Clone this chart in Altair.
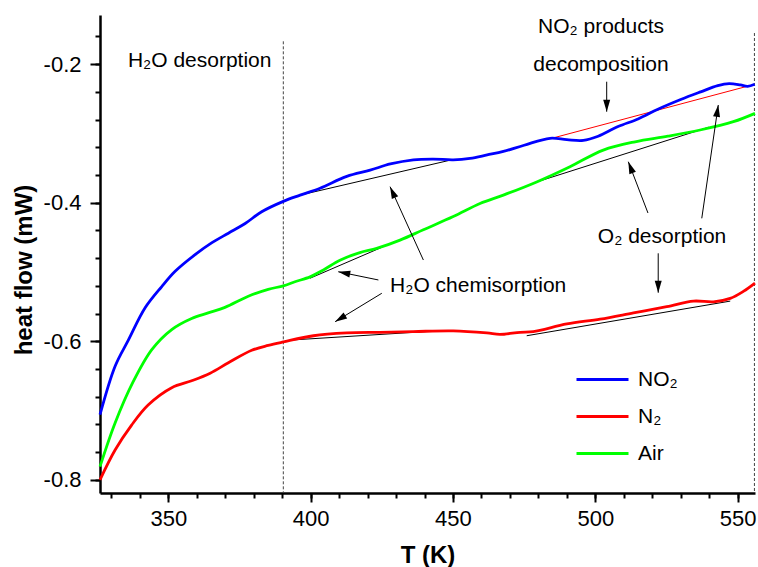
import math
import altair as alt
import pandas as pd

# ---------------- data ----------------
SERIES = ["NO₂", "N₂", "Air"]
COLORS = ["#0000ff", "#ff0000", "#00ff00"]

T_NO2 = [326.0, 331.3, 336.0, 341.8, 347.7, 352.4, 359.4, 365.2, 371.1, 377.0, 382.8, 390.4,
         396.3, 403.3, 412.7, 420.9, 428.0, 436.1, 443.0, 450.1, 456.0, 462.0, 467.7, 475.0,
         484.1, 490.0, 495.8, 501.0, 508.0, 515.0, 522.0, 530.0, 537.0, 543.0, 547.0, 551.0,
         553.5, 556.0]
Y_NO2 = [-0.706, -0.636, -0.598, -0.552, -0.521, -0.499, -0.475, -0.458, -0.444, -0.430, -0.413, -0.398,
         -0.389, -0.379, -0.362, -0.353, -0.344, -0.338, -0.337, -0.338, -0.336, -0.331, -0.326, -0.317,
         -0.307, -0.309, -0.310, -0.304, -0.290, -0.279, -0.265, -0.251, -0.240, -0.231, -0.228, -0.230,
         -0.232, -0.229]

T_N2 = [326.0, 331.3, 337.1, 342.9, 351.2, 358.2, 364.7, 371.1, 379.3, 385.1, 390.4, 401.0,
        412.7, 424.4, 436.1, 450.1, 461.9, 466.5, 473.6, 478.2, 490.0, 501.7, 513.4, 525.1,
        534.5, 541.5, 547.4, 552.0, 556.1]
Y_N2 = [-0.800, -0.757, -0.721, -0.692, -0.667, -0.657, -0.646, -0.631, -0.613, -0.606, -0.601, -0.592,
        -0.588, -0.587, -0.586, -0.585, -0.588, -0.590, -0.587, -0.586, -0.575, -0.568, -0.559, -0.550,
        -0.542, -0.543, -0.538, -0.528, -0.516]

T_AIR = [326.0, 331.3, 337.7, 344.2, 351.2, 358.2, 364.0, 369.9, 378.1, 385.1, 390.4, 394.5,
         399.8, 404.5, 410.3, 417.3, 423.2, 431.4, 439.6, 450.1, 459.5, 467.7, 479.4, 491.1,
         502.8, 514.0, 525.5, 536.8, 548.5, 556.1]
Y_AIR = [-0.781, -0.718, -0.658, -0.612, -0.583, -0.567, -0.559, -0.551, -0.535, -0.525, -0.520, -0.514,
         -0.507, -0.497, -0.483, -0.472, -0.466, -0.454, -0.439, -0.420, -0.401, -0.389, -0.370, -0.348,
         -0.324, -0.312, -0.304, -0.295, -0.283, -0.271]

# thin tangent / baseline segments: (T1, y1, T2, y2)
BLACK_SEGS = [
    (396.3, -0.389, 449.6, -0.338),
    (399.8, -0.509, 429.7, -0.456),
    (479.4, -0.370, 539.8, -0.291),
    (393.9, -0.598, 444.3, -0.585),
    (475.9, -0.592, 547.4, -0.542),
]
RED_SEGS = [
    (484.7, -0.307, 553.3, -0.232),
]

# arrows: (T start, y start, T tip, y tip)
ARROWS = [
    (504.0, -0.2253, 504.0, -0.2686),
    (518.5, -0.4148, 511.6, -0.3408),
    (537.4, -0.4225, 543.2, -0.2589),
    (522.1, -0.4730, 522.1, -0.5299),
    (423.8, -0.5115, 409.7, -0.4996),
    (425.0, -0.5307, 408.6, -0.5717),
    (439.6, -0.4827, 427.9, -0.3768),
]

# annotation texts
LEFT_TEXTS = ["H₂O desorption", "O₂ desorption", "H₂O chemisorption"]
LEFT_T = [335.8, 500.9, 427.9]
LEFT_Y = [-0.204, -0.458, -0.529]
CENTER_TEXTS = ["NO₂ products", "decomposition"]
CENTER_T = [502.0, 502.0]
CENTER_Y = [-0.155, -0.2098]

# dashed vertical markers
VLINE_T = [390.4, 555.9]
VLINE_TOP = [-0.167, -0.155]
VLINE_BOTTOM = [-0.819, -0.819]

X_DOMAIN = [326.0, 556.1]
Y_DOMAIN = [-0.819, -0.129]
X_MAJOR = [350, 400, 450, 500, 550]
X_MINOR = [330, 340, 350, 360, 370, 380, 390, 400, 410, 420, 430, 440, 450, 460, 470, 480,
           490, 500, 510, 520, 530, 540, 550]
Y_MAJOR = [-0.8, -0.6, -0.4, -0.2]
Y_MINOR = [-0.8, -0.76, -0.72, -0.68, -0.64, -0.6, -0.56, -0.52, -0.48, -0.44, -0.4, -0.36,
           -0.32, -0.28, -0.24, -0.2, -0.16]

W, H = 655, 478
FONT = "Liberation Sans"

# ---------------- tables ----------------
rows = []
for name, ts, ys in [(SERIES[0], T_NO2, Y_NO2), (SERIES[1], T_N2, Y_N2), (SERIES[2], T_AIR, Y_AIR)]:
    for t, y in zip(ts, ys):
        rows.append({"series": name, "T": t, "hf": y})
lines_df = pd.DataFrame(rows)


def seg_table(segs):
    r = []
    for i, (t1, y1, t2, y2) in enumerate(segs):
        r.append({"seg": i, "T": t1, "hf": y1})
        r.append({"seg": i, "T": t2, "hf": y2})
    return pd.DataFrame(r)


black_df = seg_table(BLACK_SEGS)
red_df = seg_table(RED_SEGS)

kx = W / (X_DOMAIN[1] - X_DOMAIN[0])
ky = H / (Y_DOMAIN[1] - Y_DOMAIN[0])
arr_rows = []
for t1, y1, t2, y2 in ARROWS:
    dx = (t2 - t1) * kx
    dy = -(y2 - y1) * ky
    ang = math.degrees(math.atan2(dx, -dy)) % 360
    arr_rows.append({"T1": t1, "y1": y1, "T2": t2, "y2": y2, "ang": ang})
arr_df = pd.DataFrame(arr_rows)

left_df = pd.DataFrame({"txt": LEFT_TEXTS, "T": LEFT_T, "hf": LEFT_Y})
center_df = pd.DataFrame({"txt": CENTER_TEXTS, "T": CENTER_T, "hf": CENTER_Y})
vline_df = pd.DataFrame({"T": VLINE_T, "top": VLINE_TOP, "bottom": VLINE_BOTTOM})

xs = alt.Scale(domain=X_DOMAIN, nice=False, zero=False)
ys_ = alt.Scale(domain=Y_DOMAIN, nice=False, zero=False)

x_main_axis = alt.Axis(orient="bottom", values=X_MAJOR, tickSize=9, tickWidth=2, tickColor="black",
                       domainColor="black", domainWidth=2.5, labelFont=FONT, labelFontSize=22,
                       labelColor="black", labelPadding=6, labelFlush=False, grid=False,
                       titleFont=FONT, titleFontSize=24, titleFontWeight="bold", titleColor="black",
                       titleY=69, titleBaseline="alphabetic")
y_main_axis = alt.Axis(orient="left", values=Y_MAJOR, labelExpr="'' + datum.value", tickSize=10,
                       tickWidth=2, tickColor="black", domainColor="black", domainWidth=2.5,
                       labelFont=FONT, labelFontSize=22, labelColor="black", labelPadding=9,
                       labelFlush=False, grid=False, titleFont=FONT, titleFontSize=24,
                       titleFontWeight="bold", titleColor="black", titleX=-75.5, titleY=254.5,
                       titleAngle=270, titleBaseline="middle", titleAlign="center")

lines = alt.Chart(lines_df).mark_line(strokeWidth=2.8, interpolate="catmull-rom").encode(
    x=alt.X("T:Q", scale=xs, axis=x_main_axis, title="T (K)"),
    y=alt.Y("hf:Q", scale=ys_, axis=y_main_axis, title="heat flow (mW)"),
    color=alt.Color("series:N", scale=alt.Scale(domain=SERIES, range=COLORS),
                    legend=alt.Legend(title=None, orient="none", legendX=475, legendY=346,
                                      symbolType="stroke", symbolSize=2704, symbolStrokeWidth=3,
                                      labelFont=FONT, labelFontSize=21, labelColor="black",
                                      labelOffset=8, clipHeight=37, rowPadding=0, padding=0)),
)

black_segs = alt.Chart(black_df).mark_line(color="black", strokeWidth=1).encode(
    x=alt.X("T:Q", scale=xs, axis=None), y=alt.Y("hf:Q", scale=ys_, axis=None), detail="seg:N")
red_segs = alt.Chart(red_df).mark_line(color="#ff0000", strokeWidth=1).encode(
    x=alt.X("T:Q", scale=xs, axis=None), y=alt.Y("hf:Q", scale=ys_, axis=None), detail="seg:N")

shafts = alt.Chart(arr_df).mark_rule(color="black", strokeWidth=1).encode(
    x=alt.X("T1:Q", scale=xs, axis=None), y=alt.Y("y1:Q", scale=ys_, axis=None),
    x2="T2:Q", y2="y2:Q")
heads = alt.Chart(arr_df).mark_point(shape="M0,0L-0.35,1.2L0.35,1.2Z", filled=True, color="black",
                                     opacity=1, size=400, strokeWidth=0).encode(
    x=alt.X("T2:Q", scale=xs, axis=None), y=alt.Y("y2:Q", scale=ys_, axis=None),
    angle=alt.Angle("ang:Q", scale=None))

left_txt = alt.Chart(left_df).mark_text(font=FONT, fontSize=21, align="left", baseline="alphabetic",
                                        color="black").encode(
    x=alt.X("T:Q", scale=xs, axis=None), y=alt.Y("hf:Q", scale=ys_, axis=None), text="txt:N")
center_txt = alt.Chart(center_df).mark_text(font=FONT, fontSize=21, align="center",
                                            baseline="alphabetic", color="black").encode(
    x=alt.X("T:Q", scale=xs, axis=None), y=alt.Y("hf:Q", scale=ys_, axis=None), text="txt:N")

vlines = alt.Chart(vline_df).mark_rule(color="#444444", strokeWidth=1, strokeDash=[3, 2]).encode(
    x=alt.X("T:Q", scale=xs, title="",
            axis=alt.Axis(orient="bottom", values=X_MINOR, labels=False, domain=False, tickSize=5,
                          tickWidth=2, tickColor="black", grid=False)),
    y=alt.Y("top:Q", scale=ys_, title="",
            axis=alt.Axis(orient="left", values=Y_MINOR, labels=False, domain=False, tickSize=5,
                          tickWidth=2, tickColor="black", grid=False)),
    y2="bottom:Q")

chart = alt.layer(vlines, black_segs, red_segs, lines, shafts, heads, left_txt, center_txt).resolve_axis(
    x="independent", y="independent"
).properties(
    width=W, height=H,
    autosize=alt.AutoSizeParams(type="none"),
    padding={"left": 100, "top": 15, "right": 3, "bottom": 74},
    background="white",
).configure_view(stroke="transparent")

chart.save("out.html", embed_options={"renderer": "svg", "actions": False})
